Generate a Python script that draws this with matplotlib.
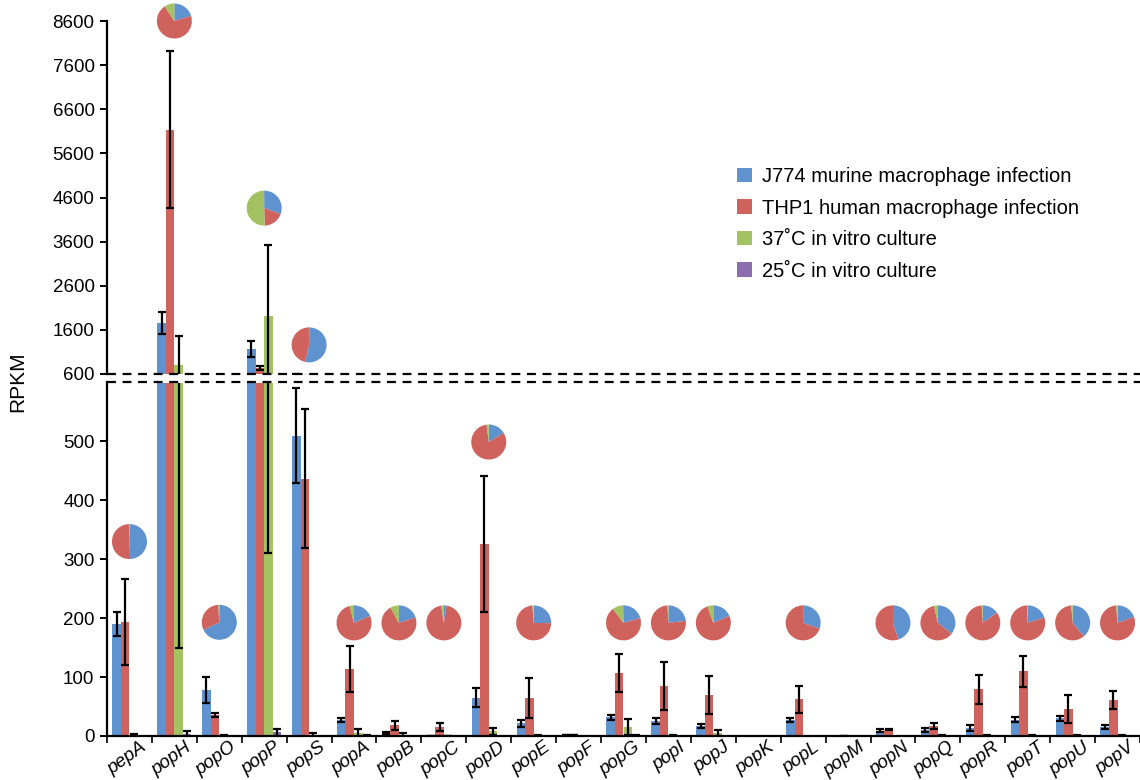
"""
Broken-axis grouped bar chart of RPKM per gene under four growth conditions,
with a pie above each gene showing how the expression splits across them.
"""

import numpy as np
import matplotlib
matplotlib.use("Agg")
import matplotlib.pyplot as plt
import matplotlib.transforms as mtrans
from matplotlib.patches import Patch

plt.rcParams["font.family"] = ["Liberation Sans", "DejaVu Sans"]

# ----------------------------------------------------------------------------
# Data
# ----------------------------------------------------------------------------
GENES = ["pepA", "popH", "popO", "popP", "popS", "popA", "popB", "popC",
         "popD", "popE", "popF", "popG", "popI", "popJ", "popK", "popL",
         "popM", "popN", "popQ", "popR", "popT", "popU", "popV"]

J774 = [190, 1760, 78, 1165, 510, 27, 5, 0.4, 65, 22, 2, 32, 26, 17, 0, 27,
        0, 9, 10, 14, 28, 30, 15]
J774_ERR = [20, 245, 22, 178, 81, 3, 2, 0.3, 16, 6, 0.5, 4, 5, 4, 0, 4,
            0, 3, 4, 5, 5, 4, 3]
THP1 = [193, 6140, 36, 730, 437, 113, 18, 15, 326, 64, 2, 107, 85, 70, 0, 62,
        0.5, 11, 17, 79, 110, 46, 61]
THP1_ERR = [73, 1770, 3, 50, 118, 39, 7, 7, 116, 34, 0.5, 33, 41, 32, 0, 23,
            0.3, 1.5, 5, 24, 26, 24, 15]
C37 = [2, 800, 1, 1920, 2, 5, 2, 0.4, 8, 1, 0, 15, 1, 5, 0, 0,
       0, 0, 1, 1, 1, 1, 1]
C37_ERR = [1, 650, 0.5, 1610, 3, 7, 3, 0.3, 6, 0.5, 0, 14, 1, 5, 0, 0,
           0, 0, 0.5, 0.5, 0.5, 0.5, 0.5]
C25 = [0, 4, 0, 6, 0, 1, 0, 0, 0, 0, 0, 1, 0, 0, 0, 0,
       0, 0, 0, 0, 0, 0, 0]
C25_ERR = [0, 5, 0, 6, 0, 0.5, 0, 0, 0, 0, 0, 0.5, 0, 0, 0, 0,
           0, 0, 0, 0, 0, 0, 0]

# height (RPKM) at which each pie is centred; None -> no pie
PIE_Y = [330, 8600, 193, 4360, 1260, 192, 192, 192, 499, 192, None, 192,
         192, 192, None, 192, None, 192, 192, 192, 192, 192, 192]

LABELS = ["J774 murine macrophage infection",
          "THP1 human macrophage infection",
          "37˚C in vitro culture",
          "25˚C in vitro culture"]
COLORS = ["#5E93D0", "#CF625D", "#A3C262", "#8D6FB0"]

BREAK = 600
UP_TICKS = np.arange(600, 8601, 1000)
LO_TICKS = np.arange(0, 501, 100)

W_PX, H_PX = 1140, 780


def main():
    fig = plt.figure(figsize=(W_PX / 100, H_PX / 100), dpi=100)
    left = 107 / W_PX
    width = 1 - left
    ax_up = fig.add_axes([left, 1 - 374 / H_PX, width, (374 - 21) / H_PX])
    ax_lo = fig.add_axes([left, 1 - 736 / H_PX, width, (736 - 382.5) / H_PX])

    x = np.arange(len(GENES))
    bw = 0.19
    series = [(J774, J774_ERR), (THP1, THP1_ERR), (C37, C37_ERR), (C25, C25_ERR)]

    for ax in (ax_up, ax_lo):
        for k, (vals, errs) in enumerate(series):
            xs = x + (k - 1.5) * bw
            v = np.asarray(vals, float)
            e = np.asarray(errs, float)
            ax.bar(xs, v, width=bw, color=COLORS[k], linewidth=0, zorder=2)
            m = (v > 0) & (e > 0)
            ax.errorbar(xs[m], v[m], yerr=e[m], fmt="none", ecolor="black",
                        elinewidth=1.6, capsize=3, capthick=1.6, zorder=3)
        ax.set_xlim(-0.5, len(GENES) - 0.5)
        ax.spines["top"].set_visible(False)
        ax.spines["right"].set_visible(False)
        ax.spines["left"].set_linewidth(1.6)
        ax.tick_params(axis="y", direction="out", length=5, width=1.4,
                       labelsize=13.5, colors="black", pad=4)
        ax.axhline(BREAK, color="black", lw=1.6, ls=(0, (4, 3)),
                   clip_on=False, zorder=5)

    ax_up.set_ylim(BREAK, 8600)
    ax_up.set_yticks(UP_TICKS)
    ax_up.spines["bottom"].set_visible(False)
    ax_up.set_xticks([])
    ax_up.patch.set_alpha(0)

    ax_lo.set_ylim(0, BREAK)
    ax_lo.set_yticks(LO_TICKS)
    ax_lo.spines["bottom"].set_linewidth(1.6)
    ax_lo.set_xticks(x)
    ax_lo.set_xticklabels(GENES, rotation=36, ha="right", va="top",
                          rotation_mode="anchor", fontsize=13.5,
                          style="italic")
    ax_lo.tick_params(axis="x", which="major", length=0, pad=2)
    shift = mtrans.ScaledTranslation(0.10, 0, fig.dpi_scale_trans)
    for lab in ax_lo.get_xticklabels():
        lab.set_transform(lab.get_transform() + shift)
    ax_lo.set_xticks(np.arange(-0.5, len(GENES)), minor=True)
    ax_lo.tick_params(axis="x", which="minor", direction="out", length=5,
                      width=1.2)
    ax_lo.patch.set_alpha(0)

    fig.text(18 / W_PX, 1 - 382 / H_PX, "RPKM", rotation=90, fontsize=15,
             ha="center", va="center")

    # pies, drawn on a pixel-space overlay
    ov = fig.add_axes([0, 0, 1, 1], zorder=10)
    for i, py in enumerate(PIE_Y):
        if py is None:
            continue
        ax = ax_up if py > BREAK else ax_lo
        cx, cy = ax.transData.transform((x[i], py))
        fr = [J774[i], THP1[i], C37[i], C25[i]]
        ov.pie(fr, colors=COLORS, startangle=90, counterclock=False,
               center=(cx, cy), radius=17.5, frame=True,
               wedgeprops=dict(linewidth=0))
    ov.set_xlim(0, W_PX)
    ov.set_ylim(0, H_PX)
    ov.set_aspect("equal")
    ov.axis("off")

    handles = [Patch(facecolor=c, edgecolor="none", label=l)
               for c, l in zip(COLORS, LABELS)]
    fig.legend(handles=handles, loc="upper left",
               bbox_to_anchor=(729 / W_PX, 1 - 159 / H_PX), frameon=False,
               borderaxespad=0, fontsize=14.5, handlelength=0.75,
               handleheight=0.75, handletextpad=0.5, labelspacing=0.62)

    fig.savefig("out.png", dpi=100)
    plt.close(fig)


if __name__ == "__main__":
    main()
